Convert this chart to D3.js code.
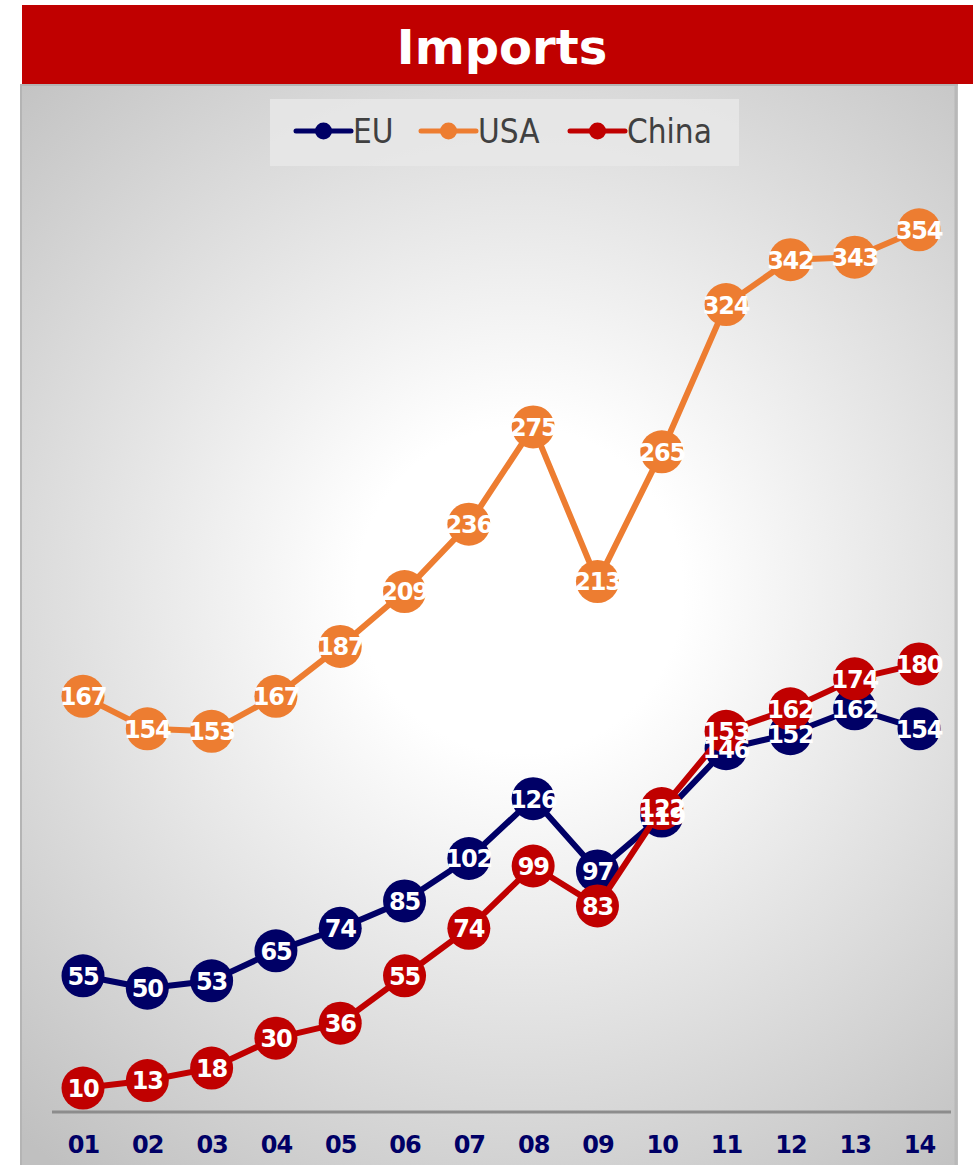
<!DOCTYPE html>
<html><head><meta charset="utf-8">
<script src="https://cdn.jsdelivr.net/npm/d3@7"></script>
<style>html,body{margin:0;padding:0;background:#fff;}svg{display:block;}</style>
</head><body>
<script>
const years = ["01","02","03","04","05","06","07","08","09","10","11","12","13","14"];
const euValues = [55,50,53,65,74,85,102,126,97,119,146,152,162,154];
const usaValues = [167,154,153,167,187,209,236,275,213,265,324,342,343,354];
const chinaValues = [10,13,18,30,36,55,74,99,83,122,153,162,174,180];
const seriesNames = ["EU","USA","China"];
const seriesColors = ["#000066","#ED7D31","#C00000"];
const titleText = "Imports";

const W = 973, H = 1165;
const svg = d3.select("body").append("svg").attr("width", W).attr("height", H);
const defs = svg.append("defs");
const rg = defs.append("radialGradient").attr("id","bg")
  .attr("gradientUnits","userSpaceOnUse").attr("cx",520).attr("cy",590).attr("r",740);
rg.append("stop").attr("offset","0").attr("stop-color","#ffffff");
rg.append("stop").attr("offset","0.22").attr("stop-color","#ffffff");
rg.append("stop").attr("offset","1").attr("stop-color","#c0c0c0");

// panel
svg.append("rect").attr("x",20).attr("y",84).attr("width",938).attr("height",H-84).attr("fill","url(#bg)");
svg.append("line").attr("x1",21).attr("x2",21).attr("y1",84).attr("y2",H).attr("stroke","#b4b4b4").attr("stroke-width",2);
svg.append("line").attr("x1",956).attr("x2",956).attr("y1",84).attr("y2",H).attr("stroke","#b8b8b8").attr("stroke-width",3);
svg.append("line").attr("x1",20).attr("x2",958).attr("y1",85).attr("y2",85).attr("stroke","#b4b4b4").attr("stroke-width",2);

// title band
svg.append("rect").attr("x",22).attr("y",5).attr("width",W-22).attr("height",79).attr("fill","#C00000");
svg.append("text").attr("x",502).attr("y",64).attr("text-anchor","middle")
  .attr("font-family","DejaVu Sans").attr("font-weight","bold").attr("font-size",48)
  .attr("fill","#fff").text(titleText);

// legend
svg.append("rect").attr("x",270).attr("y",99).attr("width",469).attr("height",67).attr("fill","#e8e8e8").attr("opacity",0.85);
const legendX = [296, 421, 570];
seriesNames.forEach((n,i)=>{
  const g = svg.append("g").attr("transform",`translate(${legendX[i]},131)`);
  g.append("line").attr("x1",0).attr("x2",55).attr("stroke",seriesColors[i]).attr("stroke-width",5).attr("stroke-linecap","round");
  g.append("circle").attr("cx",27.5).attr("r",8.5).attr("fill",seriesColors[i]);
  g.append("text").attr("x",57).attr("y",12).attr("font-family","DejaVu Sans Condensed")
    .attr("font-size",33).attr("fill","#404040").text(n);
});

// scales
const x = d3.scalePoint().domain(years).range([83, 919]);
const y = d3.scaleLinear().domain([0, 400]).range([1113, 115]);

// x axis
const xAxis = d3.axisBottom(x).tickSize(0).tickPadding(24);
const ax = svg.append("g").attr("transform","translate(0,1112)").call(xAxis);
ax.select(".domain").remove();
ax.append("line").attr("x1",52).attr("x2",951).attr("stroke","#8c8c8c").attr("stroke-width",3);
ax.selectAll(".tick text").attr("font-family","DejaVu Sans").attr("font-weight","bold")
  .attr("font-size",24).attr("letter-spacing","-1").attr("fill","#000066").attr("dy","0.72em");

const series = [euValues, usaValues, chinaValues];
const line = d3.line().x((d,i)=>x(years[i])).y(d=>y(d));
series.forEach((vals,si)=>{
  const g = svg.append("g");
  g.append("path").datum(vals).attr("d",line).attr("fill","none")
    .attr("stroke",seriesColors[si]).attr("stroke-width",6).attr("stroke-linejoin","round");
  g.selectAll("circle").data(vals).join("circle")
    .attr("cx",(d,i)=>x(years[i])).attr("cy",d=>y(d)).attr("r",21.5).attr("fill",seriesColors[si]);
});
[2,1,0].forEach(si=>{
  svg.append("g").selectAll("text").data(series[si]).join("text")
    .attr("x",(d,i)=>x(years[i])).attr("y",d=>y(d)).attr("dy","0.37em")
    .attr("text-anchor","middle").attr("font-family","DejaVu Sans").attr("font-weight","bold")
    .attr("font-size",24).attr("letter-spacing","-1.2").attr("fill","#fff").text(d=>d);
});
</script>
</body></html>
